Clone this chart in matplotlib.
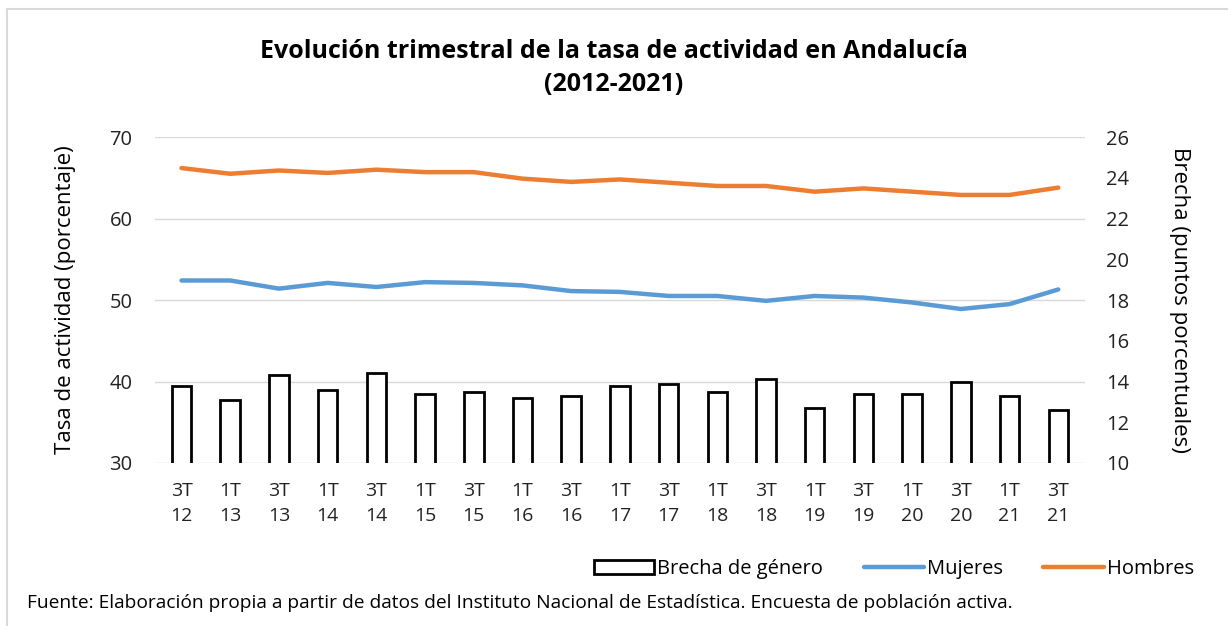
import numpy as np
import matplotlib.pyplot as plt
from matplotlib.lines import Line2D

plt.rcParams['font.family'] = ['Open Sans', 'DejaVu Sans']

# --- Datos ---
trimestres = ['3T\n12', '1T\n13', '3T\n13', '1T\n14', '3T\n14', '1T\n15', '3T\n15',
              '1T\n16', '3T\n16', '1T\n17', '3T\n17', '1T\n18', '3T\n18', '1T\n19',
              '3T\n19', '1T\n20', '3T\n20', '1T\n21', '3T\n21']
hombres = [66.2, 65.5, 65.9, 65.6, 66.0, 65.7, 65.7, 64.9, 64.5, 64.8,
           64.4, 64.0, 64.0, 63.3, 63.7, 63.3, 62.9, 62.9, 63.8]
mujeres = [52.4, 52.4, 51.4, 52.1, 51.6, 52.2, 52.1, 51.8, 51.1, 51.0,
           50.5, 50.5, 49.9, 50.5, 50.3, 49.7, 48.9, 49.5, 51.3]
brecha = [13.8, 13.1, 14.3, 13.6, 14.4, 13.4, 13.5, 13.2, 13.3, 13.8,
          13.9, 13.5, 14.1, 12.7, 13.4, 13.4, 14.0, 13.3, 12.6]

x = np.arange(len(trimestres))

fig = plt.figure(figsize=(12.28, 6.26), dpi=100)
ax = fig.add_axes([0.126, 0.2604, 0.7576, 0.5206])
ax2 = ax.twinx()

# barras (eje derecho)
ax2.bar(x, brecha, width=0.4, bottom=0, color='white', edgecolor='black',
        linewidth=2, label='Brecha de género', zorder=2)
ax2.set_ylim(10, 26)
ax2.set_yticks(np.arange(10, 27, 2))

# lineas (eje izquierdo) - dibujadas encima
ax.set_zorder(ax2.get_zorder() + 1)
ax.patch.set_visible(False)
ax.plot(x, mujeres, color='#5B9BD5', linewidth=3.2, label='Mujeres', solid_capstyle='round')
ax.plot(x, hombres, color='#ED7D31', linewidth=3.2, label='Hombres', solid_capstyle='round')
ax.set_ylim(30, 70)
ax.set_yticks(np.arange(30, 71, 10))
ax.set_xlim(-0.55, 18.55)
ax.set_xticks(x)
ax.set_xticklabels(trimestres, fontsize=14, color='#222222', linespacing=1.45)

ax2.set_axisbelow(True)
for yv in np.arange(30, 71, 10):
    ax2.axhline(10 + (yv - 30) * 16 / 40, color='#d9d9d9', linewidth=1, zorder=0)

for a in (ax, ax2):
    for s in a.spines.values():
        s.set_visible(False)
    a.tick_params(length=0, labelsize=14.5, labelcolor='#222222')
ax.tick_params(axis='y', pad=16)
ax2.tick_params(axis='y', pad=15)
ax.tick_params(axis='x', pad=14, labelsize=14)

ax.set_ylabel('Tasa de actividad (porcentaje)', fontsize=16, labelpad=24)
ax2.set_ylabel('Brecha (puntos porcentuales)', fontsize=16, rotation=270, labelpad=44)

fig.text(0.5, 0.891, 'Evolución trimestral de la tasa de actividad en Andalucía\n(2012-2021)',
         ha='center', va='center', fontsize=18, fontweight='bold', linespacing=1.4)

h2, l2 = ax2.get_legend_handles_labels()
h1, l1 = ax.get_legend_handles_labels()
fig.legend(h2 + h1, l2 + l1, loc='center right', bbox_to_anchor=(0.987, 0.091),
           ncol=3, frameon=False, fontsize=14.5, handlelength=3.0, handletextpad=0.15,
           columnspacing=2.0)

fig.text(0.022, 0.037, 'Fuente: Elaboración propia a partir de datos del Instituto Nacional de '
         'Estadística. Encuesta de población activa.', fontsize=13.8, va='center')

# borde del área del gráfico
fig.add_artist(Line2D([7 / 1228, 1], [1 - 9 / 626, 1 - 9 / 626], color='#d9d9d9', linewidth=1.5))
fig.add_artist(Line2D([7 / 1228, 7 / 1228], [0, 1 - 9 / 626], color='#d9d9d9', linewidth=1.5))

fig.savefig('out.png', dpi=100)
